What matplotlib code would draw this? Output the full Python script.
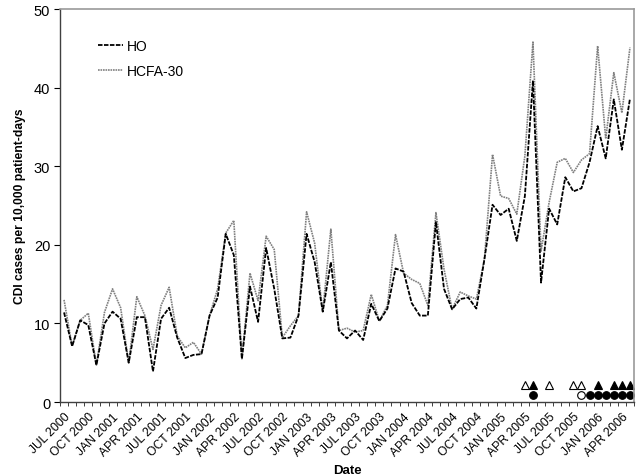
import matplotlib
matplotlib.use("Agg")
import matplotlib.pyplot as plt
import numpy as np

plt.rcParams['font.family'] = ['Liberation Sans', 'DejaVu Sans']

# monthly rates, JUL 2000 .. MAY 2006
ho = [11.4, 7.1, 10.4, 9.8, 4.7, 10.0, 11.5, 10.6, 5.0, 10.8,
      10.8, 3.9, 10.6, 12.0, 8.2, 5.6, 6.0, 6.1, 11.0, 13.3,
      21.4, 18.7, 5.5, 14.7, 10.2, 19.6, 14.4, 8.1, 8.2, 11.0,
      21.4, 17.8, 11.5, 17.8, 9.1, 8.1, 9.1, 7.9, 12.5, 10.3,
      11.9, 17.0, 16.6, 12.6, 11.0, 11.0, 22.9, 14.4, 11.8, 13.1,
      13.3, 11.9, 18.2, 25.1, 23.8, 24.6, 20.5, 26.2, 40.9, 15.2,
      24.6, 22.6, 28.6, 26.8, 27.2, 30.5, 35.1, 31.0, 38.5, 32.1,
      38.6]
hcfa = [13.0, 7.1, 10.4, 11.3, 4.7, 11.4, 14.4, 12.0, 5.0, 13.4,
        11.0, 6.7, 12.3, 14.6, 8.4, 6.9, 7.6, 6.1, 11.0, 14.4,
        21.5, 23.1, 5.5, 16.4, 12.9, 21.1, 19.4, 8.2, 9.7, 11.0,
        24.2, 20.2, 11.5, 22.0, 9.1, 9.4, 8.9, 9.1, 13.7, 10.3,
        12.3, 21.3, 16.4, 15.6, 15.1, 12.3, 24.1, 16.9, 11.8, 14.0,
        13.5, 13.1, 18.2, 31.5, 26.2, 25.9, 23.9, 31.3, 45.8, 19.2,
        25.4, 30.5, 31.0, 29.2, 30.8, 31.6, 45.3, 33.5, 41.9, 36.8,
        45.1]

tick_labels = ["JUL 2000", "OCT 2000", "JAN 2001", "APR 2001", "JUL 2001", "OCT 2001",
               "JAN 2002", "APR 2002", "JUL 2002", "OCT 2002", "JAN 2003", "APR 2003",
               "JUL 2003", "OCT 2003", "JAN 2004", "APR 2004", "JUL 2004", "OCT 2004",
               "JAN 2005", "APR 2005", "JUL 2005", "OCT 2005", "JAN 2006", "APR 2006"]

# month indices flagged by symbols along the bottom
tri_open = [57, 60, 63, 64]
tri_fill = [58, 66, 68, 69, 70]
circ_open = [64]
circ_fill = [58, 65, 66, 67, 68, 69, 70]
tri_level = 2.2
circ_level = 0.9

x = np.arange(len(ho))

fig = plt.figure(figsize=(6.41, 4.77), dpi=100)
ax = fig.add_axes([0.0936, 0.155, 0.8955, 0.824])

ax.plot(x, hcfa, color='#808080', lw=1.2, ls=(0, (1, 0.5)), label='HCFA-30')
ax.plot(x, ho, color='black', lw=1.3, ls=(0, (2.5, 0.8)), label='HO')

ax.plot(tri_open, [tri_level] * len(tri_open), ls='none', marker='^', ms=5.5,
        mfc='white', mec='black', mew=0.8)
ax.plot(tri_fill, [tri_level] * len(tri_fill), ls='none', marker='^', ms=5.5,
        mfc='black', mec='black', mew=0.8)
ax.plot(circ_open, [circ_level] * len(circ_open), ls='none', marker='o', ms=5.5,
        mfc='white', mec='black', mew=0.8)
ax.plot(circ_fill, [circ_level] * len(circ_fill), ls='none', marker='o', ms=5.5,
        mfc='black', mec='black', mew=0.8)

ax.set_xlim(-0.5, len(ho) - 0.5)
ax.set_ylim(0, 50)
ax.set_yticks([0, 10, 20, 30, 40, 50])
ax.tick_params(axis='y', direction='out', length=4, width=0.8, labelsize=10.5, pad=3)

ax.set_xticks(np.arange(0, len(ho), 3))
ax.set_xticklabels(tick_labels, rotation=45, ha='right', rotation_mode='anchor', fontsize=8.7)
ax.set_xticks(np.arange(-0.5, len(ho), 1), minor=True)
ax.tick_params(axis='x', which='major', length=0, pad=6)
ax.tick_params(axis='x', which='minor', direction='out', length=3, width=0.7, color='#404040')

for s in ['left', 'bottom']:
    ax.spines[s].set_color('#404040')
    ax.spines[s].set_linewidth(1.0)
for s in ['top', 'right']:
    ax.spines[s].set_color('#999999')
    ax.spines[s].set_linewidth(1.2)

ax.set_xlabel('Date', fontsize=9.5, fontweight='bold', labelpad=4)
ax.set_ylabel('CDI cases per 10,000 patient-days', fontsize=8.7, fontweight='bold', labelpad=6)

h, l = ax.get_legend_handles_labels()
ax.legend(h[::-1], l[::-1], loc='upper left', bbox_to_anchor=(0.045, 0.955), frameon=False,
          fontsize=10, handlelength=1.8, handletextpad=0.25, labelspacing=0.75)

fig.savefig('out.png', dpi=100)
